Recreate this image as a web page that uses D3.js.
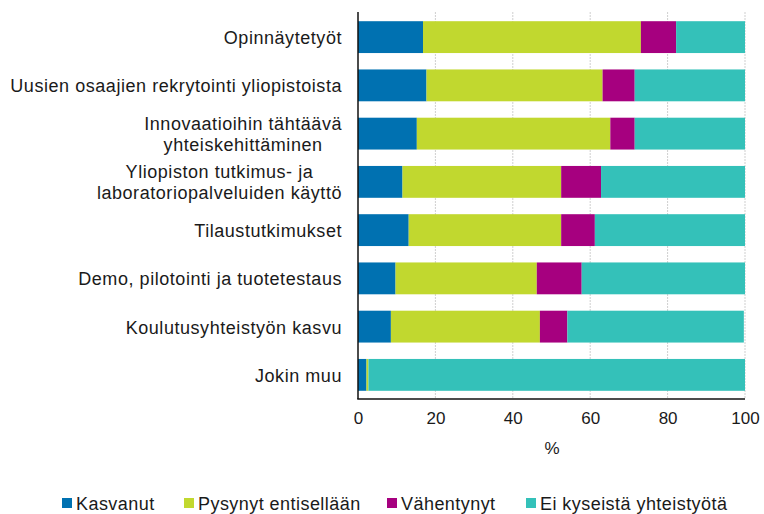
<!DOCTYPE html>
<html>
<head>
<meta charset="utf-8">
<script src="https://cdn.jsdelivr.net/npm/d3@7"></script>
<style>
  body { margin: 0; background: #fff; }
  svg { display: block; font-family: "Liberation Sans", Arial, sans-serif; }
</style>
</head>
<body>
<div id="chart"></div>
<script>
// categories (top to bottom), "\n" = line break in label
var categories = [
    "Opinnäytetyöt",
    "Uusien osaajien rekrytointi yliopistoista",
    "Innovaatioihin tähtäävä\nyhteiskehittäminen",
    "Yliopiston tutkimus- ja\nlaboratoriopalveluiden käyttö",
    "Tilaustutkimukset",
    "Demo, pilotointi ja tuotetestaus",
    "Koulutusyhteistyön kasvu",
    "Jokin muu"
];

var seriesNames = ["Kasvanut", "Pysynyt entisellään", "Vähentynyt", "Ei kyseistä yhteistyötä"];
var seriesColors = ["#0071b1", "#c1d82f", "#a6007f", "#34c1b9"];

// values in %
var kasvanut   = [16.8, 17.7, 15.2, 11.5, 13.1,  9.7,  8.5,  2.2];
var pysynyt    = [56.3, 45.5, 50.0, 41.0, 39.4, 36.5, 38.5,  0.5];
var vahentynyt = [ 9.1,  8.3,  6.3, 10.3,  8.7, 11.6,  7.1,  0.0];
var eiYhteis   = [17.8, 28.5, 28.5, 37.2, 38.8, 42.2, 45.6, 97.3];

var xTicks = [0, 20, 40, 60, 80, 100];

var W = 764, H = 514;
var plotLeft = 358, plotRight = 745, plotTop = 13, plotBottom = 399;

var svg = d3.select("#chart").append("svg")
    .attr("width", W)
    .attr("height", H);

var x = d3.scaleLinear().domain([0, 100]).range([plotLeft, plotRight]);
var y = d3.scaleBand()
    .domain(categories)
    .range([plotTop, plotBottom])
    .paddingInner(0.34)
    .paddingOuter(0.17);

// gridlines
svg.append("g")
    .selectAll("line")
    .data(xTicks.slice(1))
    .enter()
    .append("line")
    .attr("x1", function (d) { return x(d); })
    .attr("x2", function (d) { return x(d); })
    .attr("y1", plotTop - 1)
    .attr("y2", plotBottom)
    .attr("stroke", "#cfcfcf")
    .attr("stroke-width", 1)
    .attr("stroke-dasharray", "2,1");

// stack the data
var rows = categories.map(function (c, i) {
    return { cat: c, s0: kasvanut[i], s1: pysynyt[i], s2: vahentynyt[i], s3: eiYhteis[i] };
});
var stacked = d3.stack().keys(["s0", "s1", "s2", "s3"])(rows);

svg.append("g")
    .selectAll("g")
    .data(stacked)
    .enter()
    .append("g")
    .attr("fill", function (d, i) { return seriesColors[i]; })
    .selectAll("rect")
    .data(function (d) { return d; })
    .enter()
    .append("rect")
    .attr("x", function (d) { return x(d[0]); })
    .attr("y", function (d) { return y(d.data.cat); })
    .attr("width", function (d) { return Math.max(0, x(d[1]) - x(d[0])); })
    .attr("height", y.bandwidth());

// axis lines
svg.append("line")
    .attr("x1", plotLeft).attr("x2", plotLeft)
    .attr("y1", plotTop - 1).attr("y2", plotBottom)
    .attr("stroke", "#111").attr("stroke-width", 1.5);
svg.append("line")
    .attr("x1", plotLeft - 0.75).attr("x2", plotRight)
    .attr("y1", plotBottom).attr("y2", plotBottom)
    .attr("stroke", "#111").attr("stroke-width", 1.5);

// x axis tick labels
var xAxis = svg.append("g")
    .attr("transform", "translate(0," + plotBottom + ")")
    .call(d3.axisBottom(x).tickValues(xTicks).tickSize(0).tickPadding(13));
xAxis.select(".domain").remove();
xAxis.selectAll("text")
    .attr("font-size", 17)
    .attr("font-family", "Liberation Sans, Arial, sans-serif")
    .attr("fill", "#1a1a1a");

svg.append("text")
    .attr("x", (plotLeft + plotRight) / 2 + 0.5)
    .attr("y", 454)
    .attr("text-anchor", "middle")
    .attr("font-size", 17)
    .attr("fill", "#1a1a1a")
    .text("%");

// category labels: right aligned block, lines centered within block
var labelRight = 342;
categories.forEach(function (c) {
    var lines = c.split("\n");
    var cy = y(c) + y.bandwidth() / 2;
    var t = svg.append("text")
        .attr("font-size", 18)
        .attr("letter-spacing", 0.55)
        .attr("fill", "#1a1a1a");
    if (lines.length === 1) {
        t.attr("x", labelRight)
            .attr("y", cy + 7)
            .attr("text-anchor", "end")
            .text(c);
    } else {
        var spans = t.selectAll("tspan")
            .data(lines)
            .enter()
            .append("tspan")
            .attr("y", function (d, i) { return cy - 4 + i * 21; })
            .text(function (d) { return d; });
        var maxW = 0;
        spans.each(function () {
            maxW = Math.max(maxW, this.getComputedTextLength());
        });
        spans.attr("x", labelRight - maxW / 2);
        t.attr("text-anchor", "middle");
    }
});

// legend
var legendX = [62, 184, 387, 526];
var legend = svg.append("g")
    .selectAll("g")
    .data(seriesNames)
    .enter()
    .append("g")
    .attr("transform", function (d, i) { return "translate(" + legendX[i] + ",0)"; });
legend.append("rect")
    .attr("x", 0)
    .attr("y", 498)
    .attr("width", 10)
    .attr("height", 10)
    .attr("fill", function (d, i) { return seriesColors[i]; });
legend.append("text")
    .attr("x", 14)
    .attr("y", 510)
    .attr("font-size", 18)
    .attr("letter-spacing", 0.45)
    .attr("fill", "#1a1a1a")
    .text(function (d) { return d; });
</script>
</body>
</html>
